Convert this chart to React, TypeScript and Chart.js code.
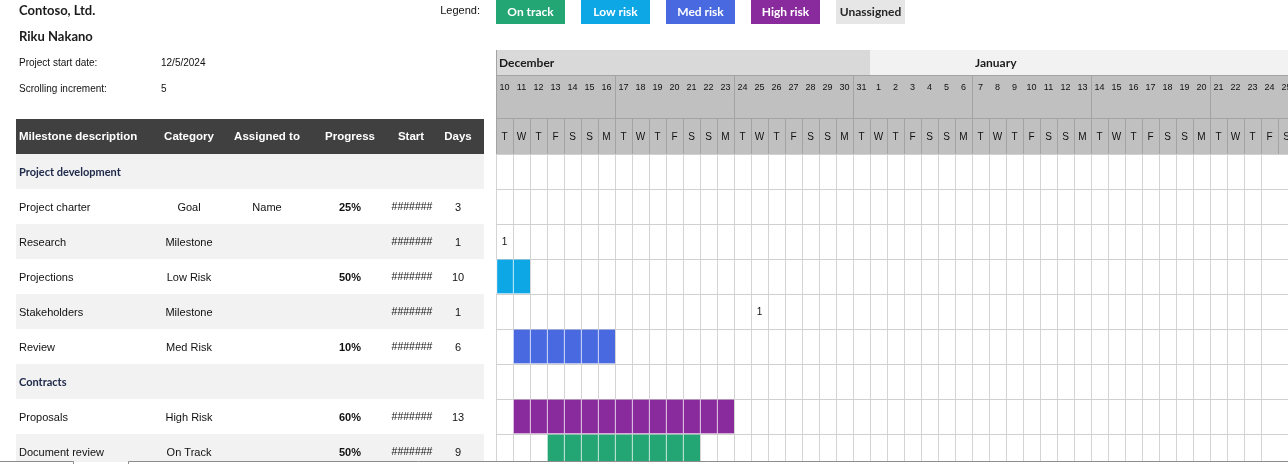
import React, { useEffect, useRef } from "react";
import { Chart, registerables } from "chart.js";

Chart.register(...registerables);

// ---------- data ----------
const companyName = "Contoso, Ltd.";
const managerName = "Riku Nakano";
const projectStartLabel = "12/5/2024";
const scrollingIncrement = "5";

const tableHeaders = ["Milestone description", "Category", "Assigned to", "Progress", "Start", "Days"];

const rowLabels = [
  "Project development",
  "Project charter",
  "Research",
  "Projections",
  "Stakeholders",
  "Review",
  "Contracts",
  "Proposals",
  "Document review",
];
const rowIsSection = [true, false, false, false, false, false, true, false, false];
const rowCategory = ["", "Goal", "Milestone", "Low Risk", "Milestone", "Med Risk", "", "High Risk", "On Track"];
const rowAssigned = ["", "Name", "", "", "", "", "", "", ""];
const rowProgress = ["", "25%", "", "50%", "", "10%", "", "60%", "50%"];
const rowStart = ["", "#######", "#######", "#######", "#######", "#######", "", "#######", "#######"];
const rowDays = ["", "3", "1", "10", "1", "6", "", "13", "9"];

// bar start, in days from the first visible day (Dec 10), and length in days
const barStart: (number | null)[] = [null, null, null, -8, null, 1, null, 1, 3];
const barLength: (number | null)[] = [null, null, null, 10, null, 6, null, 13, 9];
const barStatus: (string | null)[] = [null, null, null, "Low risk", null, "Med risk", null, "High risk", "On track"];
// milestones ("1") in days from the first visible day
const milestoneAt: (number | null)[] = [null, null, 0, null, 15, null, null, null, null];

const legendNames = ["On track", "Low risk", "Med risk", "High risk", "Unassigned"];
const legendColors = ["#23a574", "#0ea7e6", "#4869e0", "#8a2b9d", "#e6e6e6"];

const dayNumbers = [
  10, 11, 12, 13, 14, 15, 16, 17, 18, 19, 20, 21, 22, 23, 24, 25, 26, 27, 28, 29, 30, 31,
  1, 2, 3, 4, 5, 6, 7, 8, 9, 10, 11, 12, 13, 14, 15, 16, 17, 18, 19, 20, 21, 22, 23, 24, 25,
];
const weekdayLetters = [
  "T", "W", "T", "F", "S", "S", "M",
  "T", "W", "T", "F", "S", "S", "M",
  "T", "W", "T", "F", "S", "S", "M",
  "T", "W", "T", "F", "S", "S", "M",
  "T", "W", "T", "F", "S", "S", "M",
  "T", "W", "T", "F", "S", "S", "M",
  "T", "W", "T", "F", "S",
];
const monthNames = ["December", "January"];
const monthStartCol = [0, 22];
const monthLabelCol = [0, 28];
const monthColors = ["#d9d9d9", "#f2f2f2"];
const weekStartCols = [7, 14, 21, 28, 35, 42];

// ---------- layout ----------
const W = 1288;
const H = 469;
const GANTT_LEFT = 496;
const DAY_W = 17;
const BODY_TOP = 154;

const TEXT_FONT = "'Liberation Sans', Arial, sans-serif";
const HEAD_FONT = "Lato, 'Open Sans', sans-serif";

const tablePlugin = {
  id: "ganttTable",
  beforeDraw(chart: any) {
    const ctx = chart.ctx as CanvasRenderingContext2D;
    const xs = chart.scales.x;
    const ys = chart.scales.y;
    ctx.save();
    ctx.fillStyle = "#ffffff";
    ctx.fillRect(0, 0, chart.width, chart.height);

    // titles
    ctx.textBaseline = "middle";
    ctx.textAlign = "left";
    ctx.fillStyle = "#1b1b1b";
    ctx.font = `bold 13px ${HEAD_FONT}`;
    ctx.fillText(companyName, 19, 11);
    ctx.fillText(managerName, 19, 37);
    ctx.font = `10px ${TEXT_FONT}`;
    ctx.fillStyle = "#111";
    ctx.fillText("Project start date:", 19, 63);
    ctx.fillText(projectStartLabel, 161, 63);
    ctx.fillText("Scrolling increment:", 19, 89);
    ctx.fillText(scrollingIncrement, 161, 89);

    // legend
    ctx.textAlign = "right";
    ctx.font = `11px ${TEXT_FONT}`;
    ctx.fillText("Legend:", 480, 11);
    legendNames.forEach((name, i) => {
      const lx = GANTT_LEFT + i * 85;
      ctx.fillStyle = legendColors[i];
      ctx.fillRect(lx, 0, 69, 24);
      ctx.fillStyle = i < 4 ? "#ffffff" : "#262626";
      ctx.font = `bold 12px ${HEAD_FONT}`;
      ctx.textAlign = "center";
      ctx.fillText(name, lx + 34.5, 12);
    });

    // table header
    ctx.fillStyle = "#404040";
    ctx.fillRect(16, 119, 468, 35);
    ctx.fillStyle = "#ffffff";
    ctx.font = `bold 11.5px ${TEXT_FONT}`;
    const colX = [19, 189, 267, 350, 411, 458];
    tableHeaders.forEach((h, i) => {
      ctx.textAlign = i === 0 ? "left" : "center";
      ctx.fillText(h, colX[i], 137);
    });

    // table rows
    rowLabels.forEach((label, i) => {
      const cy = ys.getPixelForValue(i);
      const top = cy - 17.5;
      ctx.fillStyle = i % 2 === 0 ? "#f2f2f2" : "#ffffff";
      ctx.fillRect(16, top, 468, 35);
      const ty = cy + 1;
      if (rowIsSection[i]) {
        ctx.fillStyle = "#202a4a";
        ctx.font = `bold 11px ${HEAD_FONT}`;
        ctx.textAlign = "left";
        ctx.fillText(label, 19, ty);
        return;
      }
      ctx.fillStyle = "#111";
      ctx.font = `11px ${TEXT_FONT}`;
      ctx.textAlign = "left";
      ctx.fillText(label, 19, ty);
      ctx.textAlign = "center";
      ctx.fillText(rowCategory[i], colX[1], ty);
      ctx.fillText(rowAssigned[i], colX[2], ty);
      ctx.font = `bold 11px ${TEXT_FONT}`;
      ctx.fillText(rowProgress[i], colX[3], ty);
      ctx.font = `10.5px ${TEXT_FONT}`;
      ctx.fillText(rowStart[i], 412, ty);
      ctx.font = `11px ${TEXT_FONT}`;
      ctx.fillText(rowDays[i], colX[5], ty);
    });

    // gantt header: months
    const px = (c: number) => xs.getPixelForValue(c);
    monthNames.forEach((m, i) => {
      const x0 = px(monthStartCol[i]);
      const x1 = i + 1 < monthNames.length ? px(monthStartCol[i + 1]) : chart.width;
      ctx.fillStyle = monthColors[i];
      ctx.fillRect(x0, 50, x1 - x0, 25);
      ctx.fillStyle = "#1b1b1b";
      ctx.font = `bold 12px ${HEAD_FONT}`;
      ctx.textAlign = "left";
      ctx.fillText(m, px(monthLabelCol[i]) + 3, 63);
    });

    // day number row + weekday row
    ctx.fillStyle = "#c0c0c0";
    ctx.fillRect(GANTT_LEFT, 75, chart.width - GANTT_LEFT, BODY_TOP - 75);
    ctx.strokeStyle = "#a3a3a3";
    ctx.lineWidth = 1;
    ctx.beginPath();
    ctx.moveTo(GANTT_LEFT, 75.5);
    ctx.lineTo(chart.width, 75.5);
    ctx.moveTo(GANTT_LEFT, 118.5);
    ctx.lineTo(chart.width, 118.5);
    ctx.moveTo(GANTT_LEFT + 0.5, 50);
    ctx.lineTo(GANTT_LEFT + 0.5, BODY_TOP);
    weekStartCols.forEach((c) => {
      const x = Math.round(px(c)) + 0.5;
      ctx.moveTo(x, 75);
      ctx.lineTo(x, 118);
    });
    dayNumbers.forEach((_, c) => {
      const x = Math.round(px(c)) + 0.5;
      ctx.moveTo(x, 118);
      ctx.lineTo(x, BODY_TOP);
    });
    ctx.stroke();

    ctx.fillStyle = "#111";
    ctx.textAlign = "center";
    dayNumbers.forEach((d, c) => {
      ctx.font = `9px ${TEXT_FONT}`;
      ctx.fillText(String(d), px(c + 0.5), 88);
      ctx.font = `10px ${TEXT_FONT}`;
      ctx.fillText(weekdayLetters[c], px(c + 0.5), 137);
    });
    ctx.restore();
  },
  afterDatasetsDraw(chart: any) {
    const ctx = chart.ctx as CanvasRenderingContext2D;
    const xs = chart.scales.x;
    const ys = chart.scales.y;
    ctx.save();
    ctx.fillStyle = "#111";
    ctx.font = `10px ${TEXT_FONT}`;
    ctx.textAlign = "center";
    ctx.textBaseline = "middle";
    milestoneAt.forEach((m, i) => {
      if (m === null) return;
      ctx.fillText("1", xs.getPixelForValue(m + 0.5), ys.getPixelForValue(i) + 1);
    });
    ctx.restore();
  },
  afterDraw(chart: any) {
    const ctx = chart.ctx as CanvasRenderingContext2D;
    ctx.save();
    ctx.fillStyle = "#ffffff";
    ctx.fillRect(0, 462, chart.width, chart.height - 462);
    ctx.strokeStyle = "#8c8c8c";
    ctx.lineWidth = 1;
    ctx.beginPath();
    ctx.moveTo(0, 461.5);
    ctx.lineTo(73.5, 461.5);
    ctx.lineTo(73.5, 469);
    ctx.moveTo(128.5, 469);
    ctx.lineTo(128.5, 461.5);
    ctx.lineTo(chart.width, 461.5);
    ctx.stroke();
    ctx.restore();
  },
};

const statusNames = legendNames.slice(0, 4);

export default function App() {
  const canvasRef = useRef<HTMLCanvasElement | null>(null);

  useEffect(() => {
    if (!canvasRef.current) return;
    const datasets = statusNames.map((status, si) => ({
      label: status,
      data: rowLabels.flatMap((label, i) => {
        if (barStatus[i] !== status) return [];
        const s = barStart[i] as number;
        const n = barLength[i] as number;
        return Array.from({ length: n }, (_, d) => ({ x: [s + d, s + d + 1], y: label }));
      }),
      backgroundColor: legendColors[si],
      borderColor: "#ffffff",
      borderWidth: { top: 0, right: 0, bottom: 0, left: 1 },
      borderSkipped: false,
      barThickness: 34,
      grouped: false,
    }));

    const chart = new Chart(canvasRef.current, {
      type: "bar",
      data: { labels: rowLabels, datasets: datasets as any },
      plugins: [tablePlugin],
      options: {
        indexAxis: "y",
        responsive: false,
        animation: false,
        devicePixelRatio: 1,
        layout: { padding: { left: GANTT_LEFT, top: BODY_TOP, right: 0, bottom: 0 } },
        plugins: {
          legend: { display: false },
          tooltip: { enabled: false },
        },
        scales: {
          x: {
            type: "linear",
            position: "top",
            min: 0,
            max: (W - GANTT_LEFT) / DAY_W,
            ticks: { display: false, stepSize: 1 },
            grid: { color: "#d4d4d4", drawTicks: false, lineWidth: 1 },
            border: { display: false },
            afterFit: (s: any) => {
              s.height = 0;
            },
          },
          y: {
            type: "category",
            ticks: { display: false },
            grid: { color: "#d0d0d0", drawTicks: false, offset: true },
            border: { display: false },
            afterFit: (s: any) => {
              s.width = 0;
            },
          },
        },
      } as any,
    });
    return () => chart.destroy();
  }, []);

  return (
    <div
      style={{
        position: "fixed",
        left: 0,
        top: 0,
        width: W,
        height: 464,
        overflow: "hidden",
        background: "#fff",
      }}
    >
      <canvas ref={canvasRef} width={W} height={H} style={{ width: W, height: H, display: "block" }} />
    </div>
  );
}
